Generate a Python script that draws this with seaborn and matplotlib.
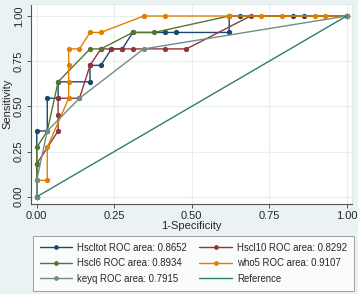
import matplotlib
matplotlib.use("Agg")
import matplotlib.pyplot as plt
import seaborn as sns
import pandas as pd
from matplotlib.lines import Line2D

# ---- data ----
hscltot_x = [0, 0, 0.034, 0.034, 0.069, 0.069, 0.172, 0.172, 0.207, 0.241, 0.276, 0.310, 0.414, 0.448, 0.621, 0.621, 0.655, 0.828, 0.862, 1]
hscltot_y = [0, 0.364, 0.364, 0.545, 0.545, 0.636, 0.636, 0.727, 0.727, 0.818, 0.818, 0.909, 0.909, 0.909, 0.909, 1, 1, 1, 1, 1]

hscl10_x = [0, 0, 0.069, 0.069, 0.069, 0.138, 0.172, 0.207, 0.241, 0.276, 0.310, 0.414, 0.483, 0.690, 1]
hscl10_y = [0, 0.182, 0.364, 0.455, 0.545, 0.545, 0.727, 0.818, 0.818, 0.818, 0.818, 0.818, 0.818, 1, 1]

hscl6_x = [0, 0, 0, 0.034, 0.069, 0.172, 0.207, 0.310, 0.379, 0.621, 1]
hscl6_y = [0, 0.182, 0.273, 0.364, 0.636, 0.818, 0.818, 0.909, 0.909, 1, 1]

who5_x = [0, 0, 0.034, 0.034, 0.103, 0.103, 0.103, 0.103, 0.138, 0.172, 0.207, 0.345, 0.414, 0.621, 0.724, 0.793, 0.897, 0.931, 1]
who5_y = [0, 0.091, 0.091, 0.273, 0.545, 0.636, 0.727, 0.818, 0.818, 0.909, 0.909, 1, 1, 1, 1, 1, 1, 1, 1]

keyq_x = [0, 0, 0.034, 0.138, 0.345, 1]
keyq_y = [0, 0.091, 0.364, 0.545, 0.818, 1]

ref_x = [0, 1]
ref_y = [0, 1]

labels = ["Hscltot ROC area: 0.8652", "Hscl10 ROC area: 0.8292",
          "Hscl6 ROC area: 0.8934", "who5 ROC area: 0.9107",
          "keyq ROC area: 0.7915", "Reference"]
ticks = [0.00, 0.25, 0.50, 0.75, 1.00]
tick_labels = ["0.00", "0.25", "0.50", "0.75", "1.00"]

colors = ["#1a476f", "#90353b", "#55752f", "#e37e00", "#6e8e84", "#2f7d6f"]

series = [(hscltot_x, hscltot_y), (hscl10_x, hscl10_y), (hscl6_x, hscl6_y),
          (who5_x, who5_y), (keyq_x, keyq_y), (ref_x, ref_y)]

sns.set_theme(style="white")
plt.rcParams['font.family'] = ['Liberation Sans', 'DejaVu Sans']

bg = "#eaf2f3"
fig = plt.figure(figsize=(3.58, 2.94), dpi=100, facecolor=bg)
ax = fig.add_axes([0.0858, 0.306, 0.8972, 0.682])
ax.set_facecolor("white")

handles = []
for i, ((xs, ys), lab, col) in enumerate(zip(series, labels, colors)):
    df = pd.DataFrame({"x": xs, "y": ys})
    is_ref = (lab == "Reference")
    sns.lineplot(data=df, x="x", y="y", ax=ax, sort=False, estimator=None,
                 color=col, linewidth=1.0,
                 marker=None if is_ref else "o", markersize=3.8,
                 markeredgewidth=0, zorder=3 + i)
    handles.append(Line2D([0], [0], color=col, linewidth=1.0,
                          marker=None if is_ref else "o", markersize=3.4,
                          markeredgewidth=0))

ax.set_xlim(-0.0194, 1.017)
ax.set_ylim(-0.040, 1.069)
ax.set_xticks(ticks)
ax.set_xticklabels(tick_labels)
ax.set_yticks(ticks)
ax.set_yticklabels(tick_labels, rotation=90, va="center")
ax.grid(True, color="#e6eef0", linewidth=0.8)
ax.set_axisbelow(True)

for s in ["top", "right"]:
    ax.spines[s].set_color("#dfe8ea")
    ax.spines[s].set_linewidth(0.8)
for s in ["left", "bottom"]:
    ax.spines[s].set_color("#555555")
    ax.spines[s].set_linewidth(0.8)

ax.tick_params(axis="both", which="both", direction="out", length=3,
               width=0.7, color="#555555", labelsize=8, pad=2,
               left=True, bottom=True)
ax.set_xlabel("1-Specificity", fontsize=8, labelpad=0)
ax.set_ylabel("Sensitivity", fontsize=8, labelpad=1)

order = [0, 2, 4, 1, 3, 5]
leg = fig.legend([handles[k] for k in order], [labels[k] for k in order],
                 ncol=2, loc="upper left",
                 bbox_to_anchor=(33 / 358, 1 - 236 / 294),
                 fontsize=6.9, frameon=True, fancybox=False,
                 handlelength=3.4, handletextpad=0.5, labelspacing=0.58,
                 borderpad=0.7, columnspacing=1.3, numpoints=1,
                 borderaxespad=0)
leg.get_frame().set_edgecolor("#8a8a8a")
leg.get_frame().set_linewidth(0.7)
leg.get_frame().set_facecolor("white")

fig.savefig("out.png", dpi=100, facecolor=bg)
